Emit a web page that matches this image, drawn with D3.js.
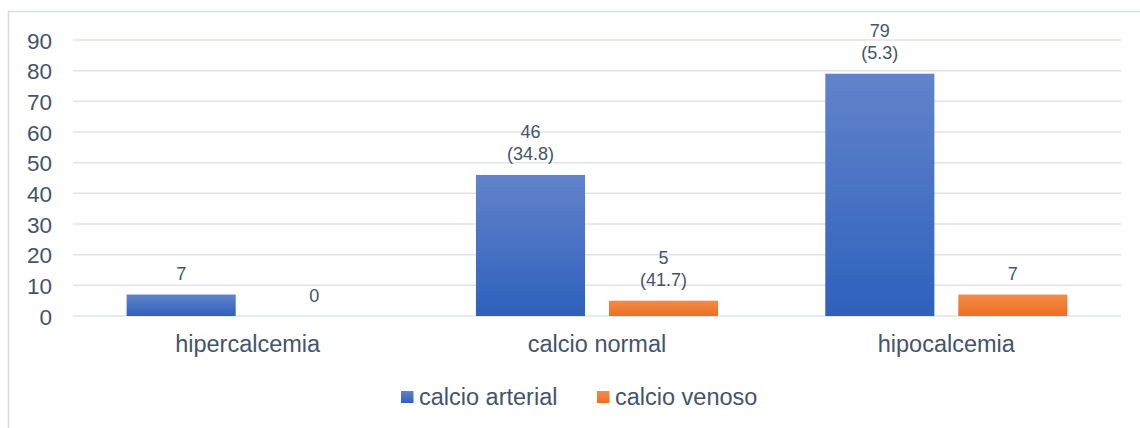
<!DOCTYPE html>
<html>
<head>
<meta charset="utf-8">
<script src="https://cdn.jsdelivr.net/npm/d3@7"></script>
<style>
  html, body { margin: 0; padding: 0; background: #fff; }
  svg { display: block; font-family: Arial, "Liberation Sans", sans-serif; }
</style>
</head>
<body>
<svg id="chart" width="1140" height="428"></svg>
<script>
const categories = ["hipercalcemia", "calcio normal", "hipocalcemia"];
const seriesNames = ["calcio arterial", "calcio venoso"];
const arterial = [7, 46, 79];
const venoso = [0, 5, 7];
const arterialNotes = ["", "(34.8)", "(5.3)"];
const venosoNotes = ["", "(41.7)", ""];
const yTicks = [0, 10, 20, 30, 40, 50, 60, 70, 80, 90];

const W = 1140, H = 428;
const margin = { left: 73, right: 19, top: 40, bottom: 112 };
const svg = d3.select("#chart");
const textColor = "#44546A";

// frame
svg.append("rect")
  .attr("x", 8.5).attr("y", 11.5)
  .attr("width", W + 10).attr("height", H + 10)
  .attr("fill", "#fff").attr("stroke", "#D9DDE3").attr("stroke-width", 1.5);

const x0 = d3.scaleBand().domain(categories).range([margin.left, W - margin.right]).paddingInner(0).paddingOuter(0);
const x1 = d3.scaleBand().domain(seriesNames).range([0, x0.bandwidth()]).paddingInner(0.18).paddingOuter(0.403);
const y = d3.scaleLinear().domain([0, 90]).range([H - margin.bottom, margin.top]);

// gradients
const defs = svg.append("defs");
function grad(id, top, bottom) {
  const g = defs.append("linearGradient").attr("id", id).attr("x1", 0).attr("y1", 0).attr("x2", 0).attr("y2", 1);
  g.append("stop").attr("offset", "0%").attr("stop-color", top);
  g.append("stop").attr("offset", "100%").attr("stop-color", bottom);
}
grad("gBlue", "#6283CB", "#2E61BC");
grad("gOrange", "#F38B4A", "#EC6F1F");
const fills = { "calcio arterial": "url(#gBlue)", "calcio venoso": "url(#gOrange)" };

// gridlines
svg.append("g").selectAll("line").data(yTicks).join("line")
  .attr("x1", margin.left).attr("x2", W - margin.right)
  .attr("y1", d => y(d)).attr("y2", d => y(d))
  .attr("stroke", "#DFE3E8").attr("stroke-width", 1.5);

// y axis labels
const yAxis = d3.axisLeft(y).tickValues(yTicks).tickSize(0).tickPadding(0);
const ya = svg.append("g").attr("transform", `translate(${52},0)`).call(yAxis);
ya.select(".domain").remove();
ya.selectAll("text").attr("fill", textColor).attr("font-size", 22.5)
  .attr("font-family", "Arial, 'Liberation Sans', sans-serif").attr("dy", "0.36em");

// bars
const data = categories.map((c, i) => ({
  cat: c,
  vals: [
    { s: seriesNames[0], v: arterial[i], note: arterialNotes[i] },
    { s: seriesNames[1], v: venoso[i], note: venosoNotes[i] }
  ]
}));

const groups = svg.append("g").selectAll("g").data(data).join("g")
  .attr("transform", d => `translate(${x0(d.cat)},0)`);

groups.selectAll("rect").data(d => d.vals).join("rect")
  .attr("x", d => x1(d.s)).attr("width", x1.bandwidth())
  .attr("y", d => y(d.v)).attr("height", d => y(0) - y(d.v))
  .attr("fill", d => fills[d.s]);

// data labels
groups.selectAll("g.lbl").data(d => d.vals).join("g").attr("class", "lbl")
  .each(function(d) {
    const g = d3.select(this);
    const cx = x1(d.s) + x1.bandwidth() / 2;
    const base = y(d.v) - 14.5;
    if (d.note) {
      g.append("text").attr("x", cx).attr("y", base).text(d.note);
      g.append("text").attr("x", cx).attr("y", base - 22).text(d.v);
    } else {
      g.append("text").attr("x", cx).attr("y", base).text(d.v);
    }
    g.selectAll("text").attr("text-anchor", "middle").attr("font-size", 18).attr("fill", textColor);
  });

// x axis labels
const xAxis = d3.axisBottom(x0).tickSize(0).tickPadding(0);
const xa = svg.append("g").attr("transform", `translate(0,${352})`).call(xAxis);
xa.select(".domain").remove();
xa.selectAll("text").attr("fill", textColor).attr("font-size", 23.5)
  .attr("font-family", "Arial, 'Liberation Sans', sans-serif").attr("dy", 0).attr("y", 0);

// legend
const legendX = [401, 597];
const lg = svg.append("g").selectAll("g").data(seriesNames).join("g")
  .attr("transform", (d, i) => `translate(${legendX[i]},0)`);
lg.append("rect").attr("x", 0).attr("y", 391).attr("width", 12.5).attr("height", 12)
  .attr("fill", d => fills[d]);
lg.append("text").attr("x", 18).attr("y", 404.5).text(d => d)
  .attr("font-size", 23.5).attr("fill", textColor);
</script>
</body>
</html>
